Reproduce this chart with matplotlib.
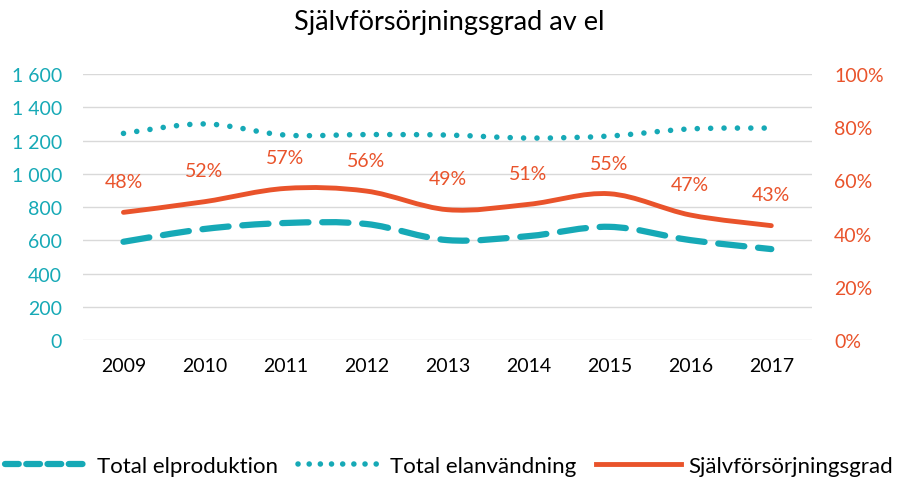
import matplotlib
matplotlib.use("Agg")
import matplotlib.pyplot as plt
from matplotlib.path import Path
from matplotlib.patches import PathPatch
from matplotlib.lines import Line2D
import numpy as np

years = ["2009", "2010", "2011", "2012", "2013", "2014", "2015", "2016", "2017"]
produktion = [591, 668, 704, 698, 601, 625, 681, 601, 547]
anvandning = [1243, 1300, 1233, 1236, 1233, 1215, 1227, 1270, 1275]
grad = [0.48, 0.52, 0.57, 0.56, 0.49, 0.51, 0.55, 0.47, 0.43]
grad_labels = ["48%", "52%", "57%", "56%", "49%", "51%", "55%", "47%", "43%"]
left_ticks = [0, 200, 400, 600, 800, 1000, 1200, 1400, 1600]
left_ticklabels = ["0", "200", "400", "600", "800", "1 000", "1 200", "1 400", "1 600"]
right_ticks = [0, 0.2, 0.4, 0.6, 0.8, 1.0]
right_ticklabels = ["0%", "20%", "40%", "60%", "80%", "100%"]

TEAL = "#16a9b6"
ORANGE = "#e9532b"
FONT = "Lato"

plt.rcParams["font.family"] = [FONT, "DejaVu Sans"]


def smooth_path(xs, ys):
    # Excel-style smoothed line: cubic Bezier through data points
    verts = [(xs[0], ys[0])]
    codes = [Path.MOVETO]
    n = len(xs)
    for i in range(n - 1):
        x0, y0 = xs[max(i - 1, 0)], ys[max(i - 1, 0)]
        x1, y1 = xs[i], ys[i]
        x2, y2 = xs[i + 1], ys[i + 1]
        x3, y3 = xs[min(i + 2, n - 1)], ys[min(i + 2, n - 1)]
        c1 = (x1 + (x2 - x0) / 6.0, y1 + (y2 - y0) / 6.0)
        c2 = (x2 - (x3 - x1) / 6.0, y2 - (y3 - y1) / 6.0)
        verts += [c1, c2, (x2, y2)]
        codes += [Path.CURVE4] * 3
    return Path(verts, codes)


fig = plt.figure(figsize=(8.98, 4.81), dpi=100)
ax = fig.add_axes([0.0924, 0.291, 0.8116, 0.553])
ax2 = ax.twinx()

x = list(range(len(years)))

ax.set_xlim(-0.5, len(years) - 0.5)
ax.set_ylim(0, 1600)
ax2.set_ylim(0, 1.0)

for v in left_ticks:
    ax.axhline(v, color="#d9d9d9", lw=1.0, zorder=0)

p1 = PathPatch(smooth_path(x, produktion), fill=False, edgecolor=TEAL, lw=4.5,
               linestyle=(0, (4.2, 2.2)), capstyle="round", zorder=3)
ax.add_patch(p1)
p2 = PathPatch(smooth_path(x, anvandning), fill=False, edgecolor=TEAL, lw=4.0,
               linestyle=(0, (0.01, 2.4)), capstyle="round", zorder=3)
ax.add_patch(p2)
p3 = PathPatch(smooth_path(x, grad), fill=False, edgecolor=ORANGE, lw=3.5,
               capstyle="round", zorder=4)
ax2.add_patch(p3)

for xi, yi, lab in zip(x, grad, grad_labels):
    ax2.annotate(lab, (xi, yi), xytext=(0, 16), textcoords="offset points",
                 ha="center", va="bottom", color=ORANGE, fontsize=14)

ax.set_xticks(x)
ax.set_xticklabels(years, fontsize=14, color="black")
ax.set_yticks(left_ticks)
ax.set_yticklabels(left_ticklabels, fontsize=14, color=TEAL)
ax2.set_yticks(right_ticks)
ax2.set_yticklabels(right_ticklabels, fontsize=14, color=ORANGE)

ax.tick_params(axis="both", length=0)
ax.tick_params(axis="x", pad=12)
ax.tick_params(axis="y", pad=15)
ax2.tick_params(axis="y", length=0, pad=16)

for a in (ax, ax2):
    for s in a.spines.values():
        s.set_visible(False)

fig.text(0.5, 0.953, "Självförsörjningsgrad av el", ha="center", va="center",
         fontsize=19.5, color="black")

handles = [
    Line2D([], [], color=TEAL, lw=4.5, linestyle=(0, (2.2, 1.2)),
           dash_capstyle="round"),
    Line2D([], [], color=TEAL, lw=4.0, linestyle=(0, (0.01, 2.0)), dash_capstyle="round"),
    Line2D([], [], color=ORANGE, lw=3.5),
]
fig.legend(handles, ["Total elproduktion", "Total elanvändning", "Självförsörjningsgrad"],
           loc="center", bbox_to_anchor=(0.5, 0.03), ncol=3, frameon=False,
           fontsize=16, handlelength=3.8, columnspacing=0.9, handletextpad=0.35)

fig.savefig("out.png", dpi=100)
